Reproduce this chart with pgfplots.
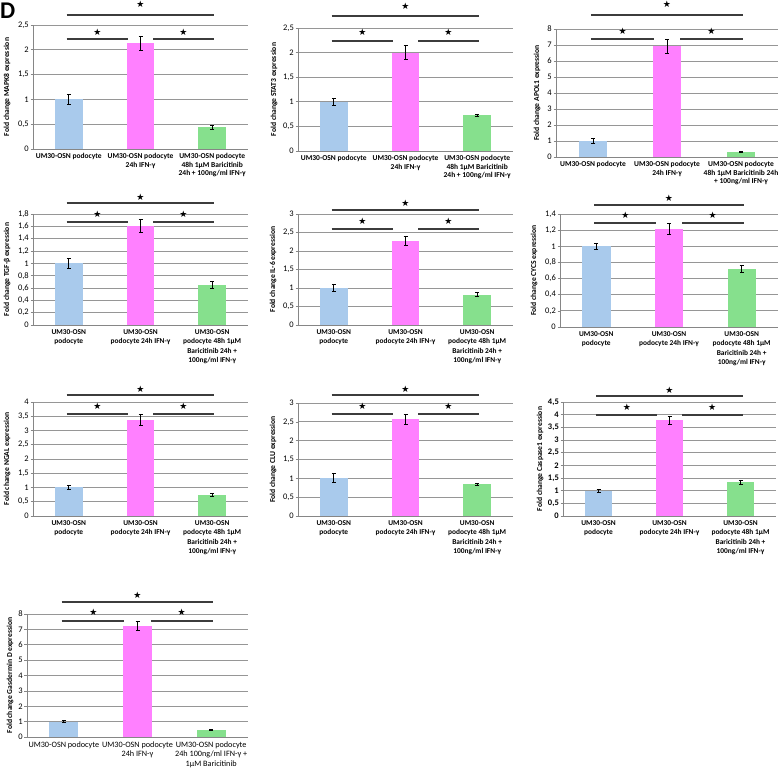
\documentclass[border=0pt]{standalone}
\usepackage{pgfplots}
\pgfplotsset{compat=1.18}
\usepackage{fontspec}
\setmainfont{Carlito}
\newfontfamily\symfont{DejaVu Sans}
\definecolor{bblue}{RGB}{169,202,236}
\definecolor{bpink}{RGB}{255,128,255}
\definecolor{bgreen}{RGB}{134,224,141}
\definecolor{axgray}{RGB}{134,134,134}
\definecolor{gridgray}{RGB}{150,150,150}
\definecolor{siggray}{RGB}{60,60,60}
\tikzset{
  sigl/.style={draw=siggray, line width=1.5pt},
  sigstar/.style={font=\symfont\fontsize{9}{9}\selectfont, inner sep=0pt, text=black}
}
\pgfplotsset{
  panel/.style={
    scale only axis, ybar, bar shift=0pt, bar width=0.39,
    xmin=-0.5, xmax=2.5, ymin=0,
    xtick={0,1,2},
    major x tick style={draw=none},
    extra x ticks={-0.5,0.5,1.5,2.5}, extra x tick labels={},
    extra x tick style={major tick length=3pt, tick align=outside, major tick style={draw=axgray, line width=0.6pt}},
    tick align=outside, major tick length=2.5pt,
    y tick style={draw=axgray, line width=0.6pt},
    axis lines*=left, axis line style={-, draw=axgray, line width=0.7pt},
    ymajorgrids, grid style={draw=gridgray, line width=0.7pt},
    clip=false,
    yticklabel style={font=\fontsize{8.5}{9}\selectfont, inner sep=1.5pt},
    xticklabel style={font=\bfseries\fontsize{7.5}{8.3}\selectfont, align=center, inner sep=2pt},
    /pgf/number format/use comma,
    /pgf/number format/fixed,
    /pgf/number format/precision=1,
    /pgf/number format/assume math mode=true,
  },
  yl/.style={every axis y label/.style={at={([xshift=-#1pt]axis description cs:0,0.5)}, rotate=90, anchor=center, font=\bfseries\fontsize{7.6}{8}\selectfont}},
  errb/.style={error bars/.cd, y dir=both, y explicit,
    error bar style={draw=black, line width=0.7pt},
    error mark options={rotate=90, mark size=2pt, draw=black, line width=0.7pt}},
}
\newcommand{\sig}[5]{%
  \draw[sigl] ([yshift=#2pt]axis cs:-0.03,#1) -- ([yshift=#2pt]axis cs:2.03,#1);
  \draw[sigl] ([yshift=#3pt]axis cs:-0.03,#1) -- ([yshift=#3pt]axis cs:0.82,#1);
  \draw[sigl] ([yshift=#3pt]axis cs:1.18,#1) -- ([yshift=#3pt]axis cs:2.03,#1);
  \node[sigstar] at ([yshift=#4pt]axis cs:1,#1) {★};
  \node[sigstar] at ([yshift=#5pt]axis cs:0.4,#1) {★};
  \node[sigstar] at ([yshift=#5pt]axis cs:1.6,#1) {★};
}
\newcommand{\bars}[6]{%
  \addplot[fill=bblue, draw=none, bar shift=0pt, errb] coordinates {(0,#1) +- (0,#2)};
  \addplot[fill=bpink, draw=none, bar shift=0pt, errb] coordinates {(1,#3) +- (0,#4)};
  \addplot[fill=bgreen, draw=none, bar shift=0pt, errb] coordinates {(2,#5) +- (0,#6)};
}
\begin{document}
\begin{tikzpicture}
\useasboundingbox (0,0) rectangle (779pt,773pt);
\node[anchor=base west, inner sep=0pt, font=\bfseries\fontsize{24}{24}\selectfont] at (0pt,754pt) {D};

% Row 1
\begin{axis}[panel, yl=26, at={(33pt,624pt)}, anchor=south west, width=215pt, height=124pt,
  ymax=2.5, ytick={0,0.5,1,1.5,2,2.5},
  ylabel={Fold change MAPK8 expression},
  xticklabels={{UM30-OSN podocyte},{UM30-OSN podocyte\\24h IFN-γ},{UM30-OSN podocyte\\48h 1µM Baricitinib\\24h + 100ng/ml IFN-γ}}]
\bars{1.00}{0.10}{2.13}{0.14}{0.44}{0.04}
\sig{2.5}{10}{-14}{21}{-7}
\end{axis}

\begin{axis}[panel, yl=24, at={(298pt,622pt)}, anchor=south west, width=215pt, height=123pt,
  ymax=2.5, ytick={0,0.5,1,1.5,2,2.5},
  ylabel={Fold change STAT3 expression},
  xticklabels={{UM30-OSN podocyte},{UM30-OSN podocyte\\24h IFN-γ},{UM30-OSN podocyte\\48h 1µM Baricitinib\\24h + 100ng/ml IFN-γ}}]
\bars{1.00}{0.07}{2.00}{0.14}{0.73}{0.02}
\sig{2.5}{12}{-13}{22}{-4}
\end{axis}

\begin{axis}[panel, yl=19, at={(556pt,616pt)}, anchor=south west, width=222pt, height=128pt,
  ymax=8, ytick={0,1,2,3,4,5,6,7,8},
  ylabel={Fold change APOL1 expression},
  xticklabels={{UM30-OSN podocyte},{UM30-OSN podocyte\\24h IFN-γ},{UM30-OSN podocyte\\48h 1µM Baricitinib 24h\\+ 100ng/ml IFN-γ}}]
\bars{1.00}{0.15}{6.93}{0.45}{0.33}{0.02}
\sig{8}{14}{-10}{25}{-2}
\end{axis}

% Row 2
\begin{axis}[panel, yl=26, at={(33pt,448pt)}, anchor=south west, width=215pt, height=111pt,
  ymax=1.8, ytick={0,0.2,0.4,0.6,0.8,1,1.2,1.4,1.6,1.8},
  xticklabel style={font=\bfseries\fontsize{7.4}{9.3}\selectfont},
  ylabel={Fold change TGF-β expression},
  xticklabels={{UM30-OSN\\podocyte},{UM30-OSN\\podocyte 24h IFN-γ},{UM30-OSN\\podocyte 48h 1µM\\Baricitinib 24h +\\100ng/ml IFN-γ}}]
\bars{1.00}{0.08}{1.61}{0.10}{0.65}{0.06}
\sig{1.8}{11}{-8}{17}{0}
\end{axis}

\begin{axis}[panel, yl=25, at={(298pt,448pt)}, anchor=south west, width=215pt, height=111pt,
  ymax=3, ytick={0,0.5,1,1.5,2,2.5,3},
  xticklabel style={font=\bfseries\fontsize{7.4}{9.3}\selectfont},
  ylabel={Fold change IL-6 expression},
  xticklabels={{UM30-OSN\\podocyte},{UM30-OSN\\podocyte 24h IFN-γ},{UM30-OSN\\podocyte 48h 1µM\\Baricitinib 24h +\\100ng/ml IFN-γ}}]
\bars{1.00}{0.10}{2.27}{0.12}{0.82}{0.05}
\sig{3}{4}{-15}{11}{-7}
\end{axis}

\begin{axis}[panel, yl=26, at={(560pt,446pt)}, anchor=south west, width=218pt, height=113pt,
  ymax=1.4, ytick={0,0.2,0.4,0.6,0.8,1,1.2,1.4},
  xticklabel style={font=\bfseries\fontsize{7.4}{9.3}\selectfont},
  ylabel={Fold change CYCS expression},
  xticklabels={{UM30-OSN\\podocyte},{UM30-OSN\\podocyte 24h IFN-γ},{UM30-OSN\\podocyte 48h 1µM\\Baricitinib 24h +\\100ng/ml IFN-γ}}]
\bars{1.00}{0.04}{1.22}{0.07}{0.72}{0.04}
\sig{1.4}{9}{-9}{16}{-1}
\end{axis}

% Row 3
\begin{axis}[panel, yl=26, at={(33pt,257pt)}, anchor=south west, width=215pt, height=114pt,
  ymax=4, ytick={0,0.5,1,1.5,2,2.5,3,3.5,4},
  xticklabel style={font=\bfseries\fontsize{7.4}{9.3}\selectfont},
  ylabel={Fold change NGAL expression},
  xticklabels={{UM30-OSN\\podocyte},{UM30-OSN\\podocyte 24h IFN-γ},{UM30-OSN\\podocyte 48h 1µM\\Baricitinib 24h +\\100ng/ml IFN-γ}}]
\bars{1.00}{0.07}{3.38}{0.20}{0.73}{0.05}
\sig{4}{7}{-12}{13}{-4}
\end{axis}

\begin{axis}[panel, yl=25, at={(298pt,257pt)}, anchor=south west, width=215pt, height=113pt,
  ymax=3, ytick={0,0.5,1,1.5,2,2.5,3},
  xticklabel style={font=\bfseries\fontsize{7.4}{9.3}\selectfont},
  ylabel={Fold change CLU expression},
  xticklabels={{UM30-OSN\\podocyte},{UM30-OSN\\podocyte 24h IFN-γ},{UM30-OSN\\podocyte 48h 1µM\\Baricitinib 24h +\\100ng/ml IFN-γ}}]
\bars{1.00}{0.12}{2.57}{0.14}{0.84}{0.02}
\sig{3}{8}{-11}{14}{-3}
\end{axis}

\begin{axis}[panel, yl=23, at={(563pt,257pt)}, anchor=south west, width=213pt, height=114pt,
  ymax=4.5, ytick={0,0.5,1,1.5,2,2.5,3,3.5,4,4.5},
  yticklabel style={font=\bfseries\fontsize{8.5}{9}\selectfont},
  xticklabel style={font=\bfseries\fontsize{7.4}{9.3}\selectfont},
  ylabel={Fold change Caspase1 expression},
  xticklabels={{UM30-OSN\\podocyte},{UM30-OSN\\podocyte 24h IFN-γ},{UM30-OSN\\podocyte 48h 1µM\\Baricitinib 24h +\\100ng/ml IFN-γ}}]
\bars{1.00}{0.05}{3.77}{0.16}{1.33}{0.07}
\sig{4.5}{6}{-13}{12}{-5}
\end{axis}

% Row 4
\begin{axis}[panel, yl=17, at={(27pt,36pt)}, anchor=south west, width=221pt, height=123pt,
  ymax=8, ytick={0,1,2,3,4,5,6,7,8},
  xticklabel style={font=\fontsize{8.2}{9.4}\selectfont},
  ylabel={Fold change Gasdermin D expression},
  xticklabels={{UM30-OSN podocyte},{UM30-OSN podocyte\\24h IFN-γ},{UM30-OSN podocyte\\24h 100ng/ml IFN-γ +\\1µM Baricitinib}}]
\bars{1.00}{0.07}{7.22}{0.30}{0.45}{0.02}
\sig{8}{12}{-7}{19}{2}
\end{axis}
\end{tikzpicture}
\end{document}
